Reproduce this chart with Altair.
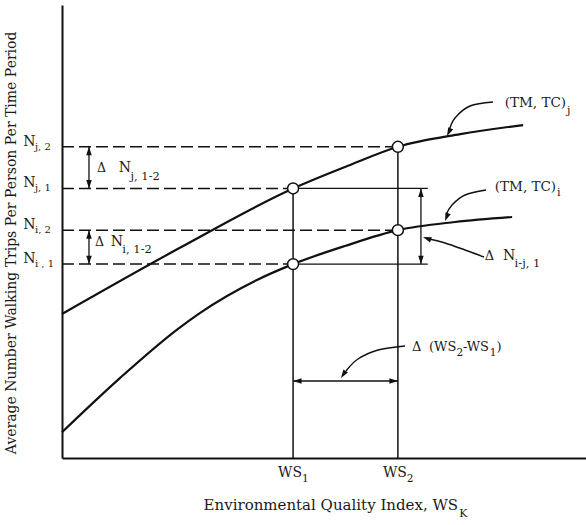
import altair as alt
import pandas as pd

# ---------------- data (abstract index units, 0-100 on both axes) ----------------
ws_labels = ["1", "2"]
ws_values = [44.1, 64.1]                      # WS1, WS2

level_labels = ["j, 2", "j, 1", "i, 2", "i , 1"]
level_values = [68.7, 59.5, 50.3, 42.8]       # Nj2, Nj1, Ni2, Ni1
level_ws = [64.1, 44.1, 64.1, 44.1]           # WS at which each level is read

curve_j_x = [0.0, 22.5, 44.1, 55.0, 64.1, 76.0, 88.0]
curve_j_y = [31.8, 46.4, 59.5, 64.7, 68.7, 71.5, 73.5]
curve_i_x = [0.0, 11.1, 21.9, 26.3, 37.2, 44.1, 54.0, 64.1, 75.0, 85.9]
curve_i_y = [5.7, 17.7, 28.3, 32.0, 39.3, 42.8, 46.8, 50.3, 52.1, 53.2]

gap_line_end = 69.8     # right end of thin solid lines at Nj,1 and Ni,1
gap_arrow_x = 68.5      # x of the ΔN i-j double arrow
left_arrow_x = 5.15     # x of the ΔN j / ΔN i double arrows
ws_arrow_y = 17.0       # y of the Δ(WS2-WS1) double arrow

# curved pointer arrows (index units) and their tips
ptr_TMj_x = [82.25, 77.86, 75.00, 73.85]
ptr_TMj_y = [78.59, 77.70, 75.06, 72.19]
ptr_TMi_x = [80.92, 76.91, 74.43, 73.28]
ptr_TMi_y = [59.16, 58.06, 55.85, 53.64]
ptr_Nij_x = [80.53, 76.91, 73.09, 70.04]
ptr_Nij_y = [44.37, 45.92, 47.46, 48.34]
ptr_WS_x = [65.46, 60.31, 56.49, 54.20]
ptr_WS_y = [24.72, 23.84, 21.85, 19.21]
tip_x = [73.47, 73.09, 68.89, 53.24]
tip_y = [71.08, 52.30, 48.79, 17.66]
tip_angle = [206, 202, 290, 214]

# ---------------- layout ----------------
PW, PH = 524, 453
UX, UY = PW / 100.0, PH / 100.0
FONT = "DejaVu Serif"
INK = "#111111"

EM = {" ": 0.318, "(": 0.390, ")": 0.390, ",": 0.318, "-": 0.338, "C": 0.733,
      "M": 0.995, "N": 0.837, "S": 0.685, "T": 0.734, "W": 1.028, "i": 0.320,
      "j": 0.320, "Δ": 0.77}


def width_px(s, size):
    return sum(EM.get(c, 0.636) for c in s) * size


rows_left = []


def run(x0, y0, parts):
    x = x0
    for p in parts:
        if isinstance(p, (int, float)):
            x += p / UX
            continue
        txt, size, drop = p
        rows_left.append({"x": x, "y": y0 - drop / UY, "text": txt, "size": size})
        x += width_px(txt, size) / UX


for name, lv in zip(level_labels, level_values):
    run(-7.4, lv + 1.1, [("N", 14, 0), (name, 10, 5)])
run(6.7, 64.0, [("Δ", 12.5, 0), 12, ("N", 14, 0), ("j, 1-2", 11.5, 9)])
run(6.3, 47.7, [("Δ", 12.5, 0), 6, ("N", 14, 0), ("i, 1-2", 11.5, 8)])
run(66.8, 24.5, [("Δ", 13, 0), 7, ("(WS", 13, 0), ("2", 10.5, 6), ("-WS", 13, 0),
                 ("1", 10.5, 6), (")", 13, 0)])
run(84.5, 78.4, [("(TM, TC)", 13.5, 0), ("j", 11, 8)])
run(82.6, 59.8, [("(TM, TC)", 13.5, 0), ("i", 11, 6)])
run(80.7, 44.6, [("Δ", 13, 0), 8, ("N", 14, 0), ("i-j,  1", 11.5, 8)])
for lab, v in zip(ws_labels, ws_values):
    run(v - 15 / UX, -3.3, [("WS", 14, 0), (lab, 10.5, 6)])
rows_left.append({"x": 75.8, "y": -12.4, "text": "K", "size": 11})

XS = alt.Scale(domain=[0, 100], nice=False, zero=False)
YS = alt.Scale(domain=[0, 100], nice=False, zero=False)


def X(f="x"):
    return alt.X(f"{f}:Q", scale=XS, title=None)


def Y(f="y"):
    return alt.Y(f"{f}:Q", scale=YS, title=None)


# ---------------- layers ----------------
dashed = alt.Chart(pd.DataFrame({"x": [0.0] * 4, "x2": level_ws, "y": level_values})).mark_rule(
    color=INK, strokeWidth=1.5, strokeDash=[12, 5]).encode(x=X(), x2="x2:Q", y=Y())

verticals = alt.Chart(pd.DataFrame({"x": ws_values, "y": [0.0, 0.0],
                                    "y2": [level_values[1], level_values[0]]})).mark_rule(
    color=INK, strokeWidth=1.5).encode(x=X(), y=Y(), y2="y2:Q")

solid = alt.Chart(pd.DataFrame({"x": [ws_values[0]] * 2, "x2": [gap_line_end] * 2,
                                "y": [level_values[1], level_values[3]]})).mark_rule(
    color=INK, strokeWidth=1.2).encode(x=X(), x2="x2:Q", y=Y())

vshafts = alt.Chart(pd.DataFrame({
    "x": [left_arrow_x, left_arrow_x, gap_arrow_x],
    "y": [level_values[1], level_values[3], level_values[3]],
    "y2": [level_values[0], level_values[2], level_values[1]]})).mark_rule(
    color=INK, strokeWidth=1.3).encode(x=X(), y=Y(), y2="y2:Q")

hshaft = alt.Chart(pd.DataFrame({"x": [ws_values[0]], "x2": [ws_values[1]], "y": [ws_arrow_y]})).mark_rule(
    color=INK, strokeWidth=1.3).encode(x=X(), x2="x2:Q", y=Y())

curve_df = pd.concat([
    pd.DataFrame({"x": curve_j_x, "y": curve_j_y, "s": "j"}),
    pd.DataFrame({"x": curve_i_x, "y": curve_i_y, "s": "i"}),
])
curves = alt.Chart(curve_df).mark_line(color=INK, strokeWidth=2.2, interpolate="monotone").encode(
    x=X(), y=Y(), detail="s:N")

ptr_frames = []
for k, (px, py) in enumerate([(ptr_TMj_x, ptr_TMj_y), (ptr_TMi_x, ptr_TMi_y),
                              (ptr_Nij_x, ptr_Nij_y), (ptr_WS_x, ptr_WS_y)]):
    ptr_frames.append(pd.DataFrame({"x": px, "y": py, "id": k, "o": list(range(len(px)))}))
pointers = alt.Chart(pd.concat(ptr_frames)).mark_line(
    color=INK, strokeWidth=1.4, interpolate="cardinal").encode(
    x=X(), y=Y(), detail="id:N", order="o:Q")

head_df = pd.DataFrame({
    "x": [left_arrow_x, left_arrow_x, left_arrow_x, left_arrow_x, gap_arrow_x, gap_arrow_x,
          ws_values[0], ws_values[1]] + tip_x,
    "y": [level_values[0], level_values[1], level_values[2], level_values[3],
          level_values[1], level_values[3], ws_arrow_y, ws_arrow_y] + tip_y,
    "a": [0, 180, 0, 180, 0, 180, 270, 90] + tip_angle,
})
heads = alt.Chart(head_df).mark_point(
    shape="M0,0 L-0.65,2 L0.65,2 Z", filled=True, color=INK, opacity=1, size=72).encode(
    x=X(), y=Y(), angle=alt.Angle("a:Q", scale=None))

circ_df = pd.DataFrame({"x": [ws_values[0], ws_values[1], ws_values[0], ws_values[1]],
                        "y": [level_values[1], level_values[0], level_values[3], level_values[2]]})
circles = alt.Chart(circ_df).mark_point(
    shape="circle", filled=True, fill="white", stroke=INK, strokeWidth=1.5, opacity=1, size=120).encode(
    x=X(), y=Y())

texts = alt.Chart(pd.DataFrame(rows_left)).mark_text(
    align="left", baseline="middle", font=FONT, color="#1a1a1a").encode(
    x=X(), y=Y(), text="text:N", size=alt.Size("size:Q", scale=None))

xtitle = alt.Chart(pd.DataFrame({"x": [75.6], "y": [-10.4],
                                 "t": ["Environmental Quality Index, WS"]})).mark_text(
    align="right", baseline="middle", font=FONT, fontSize=15, color="#1a1a1a").encode(
    x=X(), y=Y(), text="t:N")

ytitle = alt.Chart(pd.DataFrame({"x": [-9.54], "y": [47.5],
                                 "t": ["Average Number Walking Trips Per Person Per Time Period"]})).mark_text(
    align="center", baseline="middle", font=FONT, fontSize=14, angle=270, color="#1a1a1a").encode(
    x=X(), y=Y(), text="t:N")

chart = alt.layer(
    dashed, verticals, solid, vshafts, hshaft, curves, pointers, heads, circles,
    texts, xtitle, ytitle
).properties(
    width=PW, height=PH,
    autosize=alt.AutoSizeParams(type="none"),
    padding={"left": 62, "top": 5, "right": 0, "bottom": 67},
    background="white",
).configure_axis(
    labels=False, ticks=False, grid=False, domainColor=INK, domainWidth=2
).configure_view(stroke=None)

chart.save("out.html", embed_options={"renderer": "svg", "actions": False})
